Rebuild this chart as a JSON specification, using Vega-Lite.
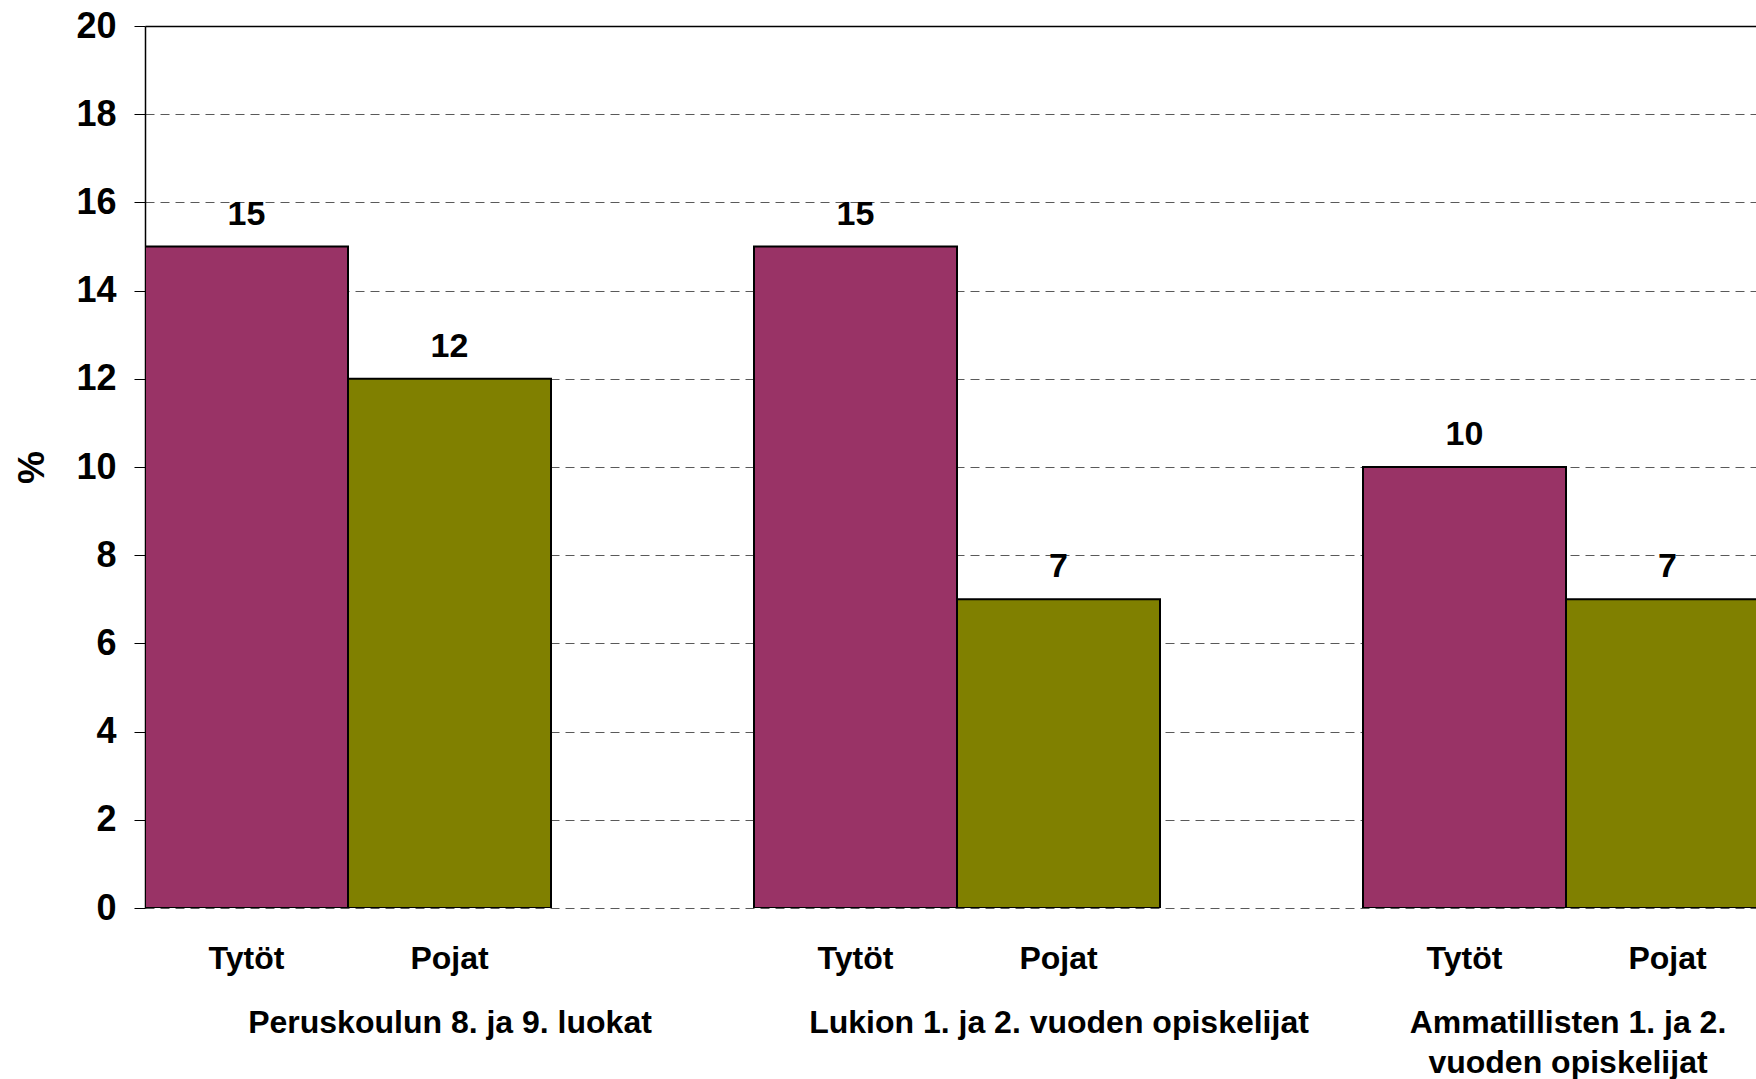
{
  "$schema": "https://vega.github.io/schema/vega-lite/v6.json",
  "width": 1611,
  "height": 882,
  "autosize": {"type": "none"},
  "padding": {"left": 145, "top": 26, "right": 0, "bottom": 171},
  "background": "white",
  "config": {
    "view": {"stroke": null},
    "font": "Liberation Sans",
    "axis": {"labelFont": "Liberation Sans", "titleFont": "Liberation Sans", "labelFontWeight": "bold", "titleFontWeight": "bold", "labelColor": "black", "titleColor": "black"}
  },
  "data": {
    "values": [
      {"group": "Peruskoulun 8. ja 9. luokat", "slot": "Peruskoulun|Tytöt", "sukupuoli": "Tytöt", "arvo": 15},
      {"group": "Peruskoulun 8. ja 9. luokat", "slot": "Peruskoulun|Pojat", "sukupuoli": "Pojat", "arvo": 12},
      {"group": "Lukion 1. ja 2. vuoden opiskelijat", "slot": "Lukion|Tytöt", "sukupuoli": "Tytöt", "arvo": 15},
      {"group": "Lukion 1. ja 2. vuoden opiskelijat", "slot": "Lukion|Pojat", "sukupuoli": "Pojat", "arvo": 7},
      {"group": "Ammatillisten 1. ja 2. vuoden opiskelijat", "slot": "Ammatillisten|Tytöt", "sukupuoli": "Tytöt", "arvo": 10},
      {"group": "Ammatillisten 1. ja 2. vuoden opiskelijat", "slot": "Ammatillisten|Pojat", "sukupuoli": "Pojat", "arvo": 7}
    ]
  },
  "layer": [
    {
      "encoding": {
        "x": {
          "field": "slot",
          "type": "nominal",
          "sort": null,
          "scale": {
            "domain": ["Peruskoulun|Tytöt", "Peruskoulun|Pojat", "gap1", "Lukion|Tytöt", "Lukion|Pojat", "gap2", "Ammatillisten|Tytöt", "Ammatillisten|Pojat", "gap3"],
            "range": [0, 1827],
            "paddingInner": 0,
            "paddingOuter": 0
          },
          "axis": {
            "title": null,
            "labelExpr": "indexof(datum.value, '|') > 0 ? split(datum.value, '|')[1] : ''",
            "labelAngle": 0,
            "labelFontSize": 32,
            "labelPadding": 35,
            "labelBaseline": "top",
            "ticks": false,
            "tickSize": 0,
            "domain": false,
            "labelLimit": 1000,
            "labelOverlap": false
          }
        },
        "y": {
          "field": "arvo",
          "type": "quantitative",
          "scale": {"domain": [0, 20], "nice": false},
          "axis": {
            "title": "%",
            "titleFontSize": 37,
            "titleFontWeight": "bold",
            "titlePadding": 24,
            "values": [0, 2, 4, 6, 8, 10, 12, 14, 16, 18, 20],
            "labelFontSize": 36,
            "labelPadding": 18,
            "tickSize": 11,
            "tickColor": "black",
            "tickWidth": 1,
            "domainColor": "black",
            "domainWidth": 1.5,
            "grid": true,
            "gridColor": {"condition": {"test": "datum.value == 20", "value": "black"}, "value": "#5a5a5a"},
            "gridDash": {"condition": {"test": "datum.value == 20", "value": []}, "value": [9, 6]},
            "gridWidth": {"condition": {"test": "datum.value == 20", "value": 1.5}, "value": 1}
          }
        }
      },
      "layer": [
        {
          "mark": {"type": "bar", "stroke": "black", "strokeWidth": 2, "clip": true},
          "encoding": {
            "color": {
              "field": "sukupuoli",
              "type": "nominal",
              "scale": {"domain": ["Tytöt", "Pojat"], "range": ["#993366", "#808000"]},
              "legend": null
            }
          }
        },
        {
          "mark": {"type": "text", "fontSize": 34, "fontWeight": "bold", "baseline": "alphabetic", "dy": -22, "color": "black"},
          "encoding": {"text": {"field": "arvo", "type": "quantitative"}}
        }
      ]
    },
    {
      "mark": {"type": "text", "opacity": 0},
      "encoding": {
        "x": {
          "field": "group",
          "type": "nominal",
          "sort": null,
          "scale": {
            "domain": ["Peruskoulun 8. ja 9. luokat", "Lukion 1. ja 2. vuoden opiskelijat", "Ammatillisten 1. ja 2. vuoden opiskelijat"],
            "range": [0, 1827],
            "paddingInner": 0,
            "paddingOuter": 0
          },
          "axis": {
            "orient": "bottom",
            "title": null,
            "labelExpr": "datum.value == 'Ammatillisten 1. ja 2. vuoden opiskelijat' ? ['Ammatillisten 1. ja 2.', 'vuoden opiskelijat'] : datum.value",
            "labelAngle": 0,
            "labelFontSize": 32,
            "labelPadding": 99,
            "labelBaseline": "top",
            "labelLineHeight": 40,
            "labelOffset": {"condition": {"test": "datum.value == 'Ammatillisten 1. ja 2. vuoden opiskelijat'", "value": -100}, "value": 0},
            "ticks": false,
            "tickSize": 0,
            "domain": false,
            "labelLimit": 1000,
            "labelOverlap": false
          }
        },
        "text": {"value": ""}
      }
    }
  ],
  "resolve": {"scale": {"x": "independent"}, "axis": {"x": "independent"}}
}
